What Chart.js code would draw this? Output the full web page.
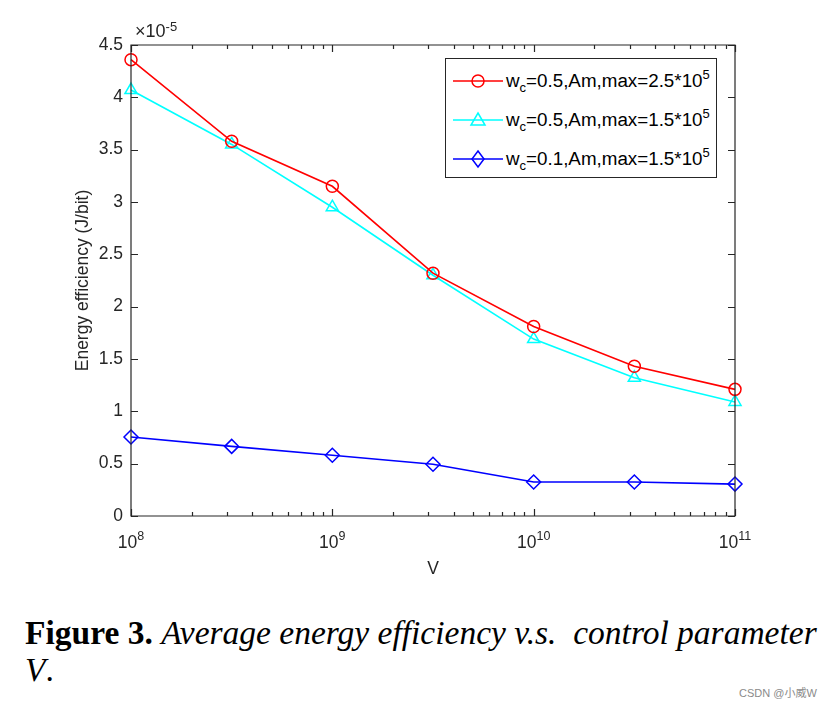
<!DOCTYPE html>
<html>
<head>
<meta charset="utf-8">
<script src="https://cdn.jsdelivr.net/npm/chart.js@4/dist/chart.umd.min.js"></script>
<style>
  html, body { margin: 0; padding: 0; background: #fff; }
  #wrap { position: relative; width: 838px; height: 705px; overflow: hidden; font-family: "Liberation Sans", Arial, sans-serif; color: #262626; }
  #c { position: absolute; left: 0; top: 0; }
  #mult { position: absolute; left: 135px; top: 21px; font-size: 18px; line-height: 20px; }
  #mult sup { font-size: 13px; position: relative; top: -6px; vertical-align: baseline; }
  #legend { position: absolute; left: 445px; top: 58px; width: 272px; height: 120px; border: 1.3px solid #262626; background: #fff; box-sizing: border-box; }
  .row { position: absolute; left: 7px; height: 30px; display: flex; align-items: center; font-size: 18.8px; color: #000; white-space: nowrap; }
  .row svg { margin-right: 3px; }
  .row sub { font-size: 13px; position: relative; top: 5px; vertical-align: baseline; }
  .row sup { font-size: 13px; position: relative; top: -8px; vertical-align: baseline; }
  #caption { position: absolute; left: 25px; top: 614px; font-family: "Liberation Serif", "Times New Roman", serif; font-size: 33.5px; line-height: 37px; color: #000; white-space: nowrap; }
  #caption b { font-weight: bold; }
  #wm { position: absolute; left: 739px; top: 684px; font-size: 11px; color: #8a8a8a; font-family: "Liberation Sans", "Noto Sans CJK SC", sans-serif; }
</style>
</head>
<body>
<div id="wrap">
  <canvas id="c" width="838" height="590"></canvas>
  <div id="mult">×10<sup>-5</sup></div>
  <div id="legend"></div>
  <div id="caption"><b>Figure 3.</b> <i>Average energy efficiency v.s. &nbsp;control parameter</i><br><i>V</i>.</div>
  <div id="wm">CSDN @小威W</div>
</div>
<script>
// ---- data ----
const vValues = [1e8, 3.1623e8, 1e9, 3.1623e9, 1e10, 3.1623e10, 1e11];
const redValues  = [4.36, 3.58, 3.15, 2.32, 1.81, 1.43, 1.21];
const cyanValues = [4.07, 3.55, 2.95, 2.30, 1.69, 1.32, 1.09];
const blueValues = [0.755, 0.665, 0.58, 0.495, 0.325, 0.325, 0.305];
const xTickValues = [1e8, 1e9, 1e10, 1e11];
const xTickExponents = ['8', '9', '10', '11'];
const yTickValues = [0, 0.5, 1, 1.5, 2, 2.5, 3, 3.5, 4, 4.5];
const seriesNames = [
  'w<sub>c</sub>=0.5,Am,max=2.5*10<sup>5</sup>',
  'w<sub>c</sub>=0.5,Am,max=1.5*10<sup>5</sup>',
  'w<sub>c</sub>=0.1,Am,max=1.5*10<sup>5</sup>'
];
const seriesColors = ['#ff0000', '#00ffff', '#0000ff'];
const seriesMarkers = ['circle', 'triangle', 'rectRot'];

const AXIS = '#262626';
const FONT = '"Liberation Sans", Arial, sans-serif';

function mk(values) { return vValues.map((v, i) => ({ x: v, y: values[i] })); }

const framePlugin = {
  id: 'frame',
  afterDatasetsDraw(chart) {
    const { ctx, chartArea: a, scales } = chart;
    const xs = scales.x, ys = scales.y;
    ctx.save();
    ctx.strokeStyle = AXIS;
    ctx.lineWidth = 1.2;
    ctx.beginPath();
    ctx.rect(a.left, a.top, a.right - a.left, a.bottom - a.top);
    ctx.stroke();
    ctx.beginPath();
    for (let d = 8; d <= 11; d++) {
      for (let m = 1; m <= 9; m++) {
        const v = m * Math.pow(10, d);
        if (v > 1e11) break;
        const px = Math.round(xs.getPixelForValue(v)) + 0.5;
        const len = m === 1 ? 7 : 4;
        ctx.moveTo(px, a.bottom); ctx.lineTo(px, a.bottom - len);
        ctx.moveTo(px, a.top); ctx.lineTo(px, a.top + len);
      }
    }
    yTickValues.forEach(v => {
      const py = Math.round(ys.getPixelForValue(v)) + 0.5;
      ctx.moveTo(a.left, py); ctx.lineTo(a.left + 7, py);
      ctx.moveTo(a.right, py); ctx.lineTo(a.right - 7, py);
    });
    ctx.stroke();
    // x tick labels: 10 with superscript exponent
    ctx.fillStyle = AXIS;
    ctx.textBaseline = 'alphabetic';
    ctx.textAlign = 'left';
    xTickValues.forEach((v, i) => {
      const px = xs.getPixelForValue(v);
      ctx.font = '17.5px ' + FONT;
      const wb = ctx.measureText('10').width;
      ctx.font = '12.5px ' + FONT;
      const we = ctx.measureText(xTickExponents[i]).width;
      const x0 = px - (wb + we) / 2;
      ctx.font = '17.5px ' + FONT;
      ctx.fillText('10', x0, a.bottom + 32);
      ctx.font = '12.5px ' + FONT;
      ctx.fillText(xTickExponents[i], x0 + wb, a.bottom + 24);
    });
    ctx.restore();
  }
};

const datasets = [redValues, cyanValues, blueValues].map((vals, i) => ({
  label: seriesNames[i],
  data: mk(vals),
  borderColor: seriesColors[i],
  backgroundColor: 'rgba(0,0,0,0)',
  pointBorderColor: seriesColors[i],
  pointBackgroundColor: 'rgba(0,0,0,0)',
  pointStyle: seriesMarkers[i],
  pointRadius: i === 0 ? 6 : 7,
  pointBorderWidth: 1.5,
  borderWidth: 1.6,
  tension: 0,
  clip: false
}));

new Chart(document.getElementById('c'), {
  type: 'line',
  data: { datasets },
  options: {
    responsive: false,
    animation: false,
    events: [],
    layout: { padding: { left: 0, top: 45, right: 103, bottom: 0 } },
    plugins: { legend: { display: false }, tooltip: { enabled: false } },
    scales: {
      x: {
        type: 'logarithmic',
        min: 1e8, max: 1e11,
        afterBuildTicks(s) { s.ticks = xTickValues.map(v => ({ value: v })); },
        afterFit(s) { s.height = 74; },
        grid: { display: false },
        border: { display: false },
        ticks: { display: false },
        title: { display: true, text: 'V', color: AXIS, font: { family: FONT, size: 17.5 }, padding: { top: 0, bottom: 10 } }
      },
      y: {
        type: 'linear',
        min: 0, max: 4.5,
        afterBuildTicks(s) { s.ticks = yTickValues.map(v => ({ value: v })); },
        afterFit(s) { s.width = 131; },
        grid: { display: false, drawTicks: false },
        border: { display: false },
        ticks: {
          padding: 8, color: AXIS, font: { family: FONT, size: 17.5 },
          callback(v) { return String(v); }
        },
        title: { display: true, text: 'Energy efficiency (J/bit)', color: AXIS, font: { family: FONT, size: 17.5 }, padding: { top: 73, bottom: 0 } }
      }
    }
  },
  plugins: [framePlugin]
});

const legend = document.getElementById('legend');
const markerSvg = (i) => {
  const c = seriesColors[i];
  let m;
  if (seriesMarkers[i] === 'circle') m = `<circle cx="25" cy="10" r="6" fill="none" stroke="${c}" stroke-width="1.5"/>`;
  else if (seriesMarkers[i] === 'triangle') m = `<polygon points="25,3 32,15 18,15" fill="none" stroke="${c}" stroke-width="1.5"/>`;
  else m = `<polygon points="25,2 31,10 25,18 19,10" fill="none" stroke="${c}" stroke-width="1.5"/>`;
  return `<svg width="50" height="20"><line x1="0" y1="10" x2="50" y2="10" stroke="${c}" stroke-width="1.6"/>${m}</svg>`;
};
seriesNames.forEach((name, i) => {
  const r = document.createElement('div');
  r.className = 'row';
  r.style.top = (7 + i * 39) + 'px';
  r.innerHTML = markerSvg(i) + '<span>' + name + '</span>';
  legend.appendChild(r);
});
</script>
</body>
</html>
